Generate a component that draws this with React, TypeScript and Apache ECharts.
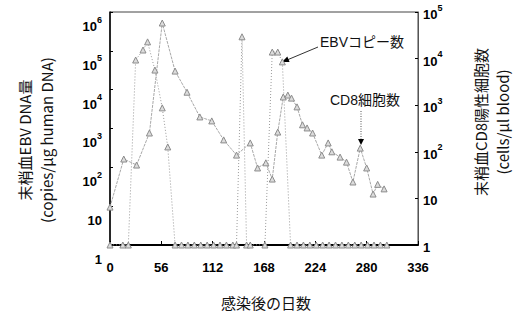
import React, { useEffect, useRef } from 'react';
import * as echarts from 'echarts';

// EBV DNA copies (copies/μg human DNA), left axis; 1 = below detection (drawn on the x axis)
const ebvDays = [0, 14, 20, 28, 36, 41, 49, 57, 63, 71, 78, 85, 92, 99, 106, 113, 120, 127, 134, 138, 144, 149, 153, 169, 177, 183, 188, 197, 204, 211, 218, 225, 232, 239, 246, 253, 260, 267, 274, 281, 288, 295, 302];
const ebvCopies = [1, 1, 1, 58000, 105000, 170000, 32000, 3400, 335, 1, 1, 1, 1, 1, 1, 1, 1, 1, 1, 1, 230000, 1, 1, 1, 93000, 93000, 52000, 1, 1, 1, 1, 1, 1, 1, 1, 1, 1, 1, 1, 1, 1, 1, 1];

// CD8+ cells (cells/μl blood), right axis
const cd8Days = [0, 15, 29, 43, 57, 71, 84, 98, 111, 124, 138, 153, 161, 170, 177, 183, 189, 194, 198, 204, 210, 215, 221, 231, 238, 242, 251, 258, 265, 273, 280, 287, 292, 299];
const cd8Cells = [6.5, 70, 52, 253, 58000, 5400, 1900, 560, 460, 180, 85, 155, 45, 58, 26, 265, 1500, 1650, 1420, 920, 380, 325, 253, 85, 155, 100, 77, 60, 22.5, 120, 45, 12.4, 20, 16];

const xMin = 0;
const xMax = 336;
const xStep = 56;
const leftMax = 1e6;
const rightMax = 1e5;

const FONT = '"Liberation Sans", "Noto Sans CJK JP", sans-serif';
const JP = '"Noto Sans CJK JP", "Liberation Sans", sans-serif';

const powLabel = (v: number) => {
  const e = Math.round(Math.log10(v));
  if (e === 0) return '{b|1}';
  if (e === 1) return '{b|10}';
  return '{b|10}{sup|' + e + '}';
};

const rich = {
  b: { fontSize: 13, fontWeight: 'bold', fontFamily: FONT, color: '#000', lineHeight: 18, verticalAlign: 'bottom' },
  sup: { fontSize: 9, fontWeight: 'bold', fontFamily: FONT, color: '#000', lineHeight: 10, verticalAlign: 'top' },
};

export default function App() {
  const ref = useRef<HTMLDivElement>(null);
  useEffect(() => {
    if (!ref.current) return;
    const chart = echarts.init(ref.current, undefined, { renderer: 'svg' });
    const marker = { color: '#dcdcdc', borderColor: '#8c8c8c', borderWidth: 1 };
    chart.setOption({
      animation: false,
      backgroundColor: '#fff',
      grid: { left: 110, right: 95, top: 12, bottom: 75, show: true, borderColor: '#444', borderWidth: 1 },
      xAxis: {
        type: 'value', min: xMin, max: xMax, interval: xStep,
        axisLine: { lineStyle: { color: '#000', width: 2 } },
        axisTick: { inside: true, length: 4, lineStyle: { color: '#000' } },
        axisLabel: { margin: 16, fontSize: 13, fontWeight: 'bold', color: '#000', fontFamily: FONT },
        splitLine: { show: false },
      },
      yAxis: [
        {
          type: 'log', logBase: 10, min: 1, max: leftMax, position: 'left',
          axisLine: { show: true, lineStyle: { color: '#000', width: 1.5 } },
          axisTick: { show: true, inside: true, length: 3, lineStyle: { color: '#000' } },
          axisLabel: { margin: 8, formatter: powLabel, rich, verticalAlign: 'top', padding: [3, 0, 0, 0] },
          splitLine: { show: false },
        },
        {
          type: 'log', logBase: 10, min: 1, max: rightMax, position: 'right',
          axisLine: { show: true, lineStyle: { color: '#555', width: 1 } },
          axisTick: { show: true, inside: true, length: 3, lineStyle: { color: '#000' } },
          axisLabel: { margin: 5, formatter: powLabel, rich },
          splitLine: { show: false },
        },
      ],
      series: [
        {
          name: 'EBVコピー数', type: 'line', yAxisIndex: 0,
          data: ebvDays.map((d, i) => [d, ebvCopies[i]]),
          symbol: 'triangle', symbolSize: 6, itemStyle: marker,
          lineStyle: { color: '#999', width: 1, type: [1, 2] },
        },
        {
          name: 'CD8細胞数', type: 'line', yAxisIndex: 1,
          data: cd8Days.map((d, i) => [d, cd8Cells[i]]),
          symbol: 'triangle', symbolSize: 6, itemStyle: marker,
          lineStyle: { color: '#a8a8a8', width: 1, type: [3, 1] },
        },
      ],
      graphic: [
        {
          type: 'text', x: 35, y: 140, rotation: Math.PI / 2,
          style: { text: '末梢血EBV DNA量\n(copies/μg human DNA)', font: '15px ' + JP, fill: '#111', align: 'center', verticalAlign: 'middle', lineHeight: 22 },
        },
        {
          type: 'text', x: 491, y: 122, rotation: Math.PI / 2,
          style: { text: '末梢血CD8陽性細胞数\n(cells/μl blood)', font: '15px ' + JP, fill: '#111', align: 'center', verticalAlign: 'middle', lineHeight: 22 },
        },
        {
          type: 'text', x: 266, y: 302,
          style: { text: '感染後の日数', font: '15px ' + JP, fill: '#111', align: 'center', verticalAlign: 'middle' },
        },
        {
          type: 'text', x: 362, y: 42,
          style: { text: 'EBVコピー数', font: '14px ' + FONT, fill: '#111', align: 'center', verticalAlign: 'middle' },
        },
        {
          type: 'text', x: 365, y: 100,
          style: { text: 'CD8細胞数', font: '14px ' + FONT, fill: '#111', align: 'center', verticalAlign: 'middle' },
        },
        { type: 'line', shape: { x1: 318, y1: 47, x2: 287, y2: 60 }, style: { stroke: '#333', lineWidth: 1 } },
        { type: 'polygon', shape: { points: [[282, 62], [289.6, 62.1], [287.3, 56.6]] }, style: { fill: '#000' } },
        { type: 'line', shape: { x1: 361, y1: 111, x2: 361, y2: 139 }, style: { stroke: '#555', lineWidth: 1, lineDash: [1, 1.5] } },
        { type: 'polygon', shape: { points: [[361, 145], [358, 139], [364, 139]] }, style: { fill: '#000' } },
      ],
    });
    return () => chart.dispose();
  }, []);
  return <div ref={ref} style={{ position: 'absolute', left: 0, top: 0, width: 513, height: 320 }} />;
}
